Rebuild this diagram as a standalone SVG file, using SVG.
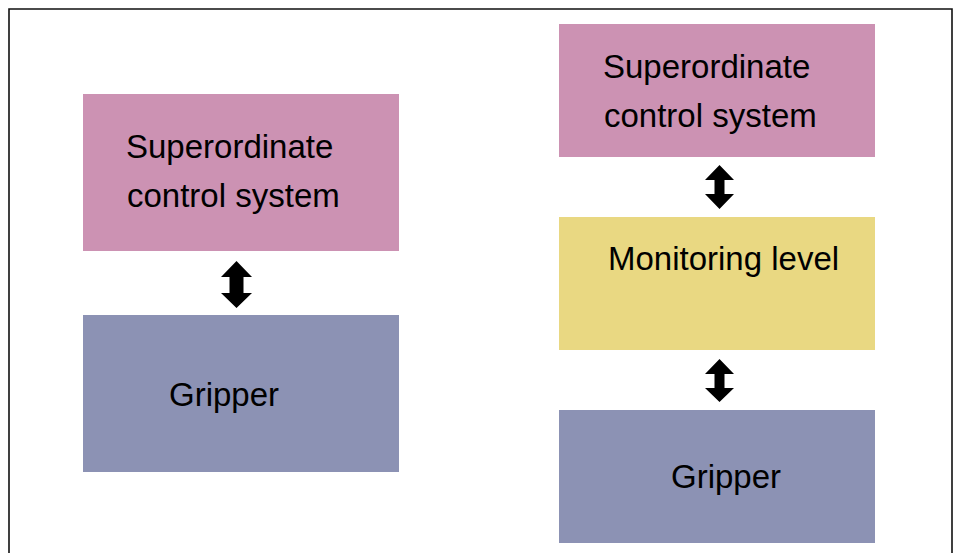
<svg xmlns="http://www.w3.org/2000/svg" width="954" height="553" viewBox="0 0 954 553">
  <style>
    .sup { fill: #CC92B3; }
    .grip { fill: #8C92B4; }
    .mon { fill: #E9D882; }
    .lbl { font-family: "Liberation Sans", Arial, sans-serif; font-size: 33px; fill: #000; }
    .arr { fill: #000; }
  </style>
  <rect width="954" height="553" fill="#fff"/>
  <path d="M9,553 V9 H952 V553" fill="none" stroke="#111" stroke-width="1.6"/>

  <g id="left-superordinate">
    <rect class="sup" x="83" y="94" width="316" height="157"/>
    <text class="lbl" x="126" y="158">Superordinate</text>
    <text class="lbl" x="127" y="207">control system</text>
  </g>
  <g id="left-gripper">
    <rect class="grip" x="83" y="315" width="316" height="157"/>
    <text class="lbl" x="169" y="406">Gripper</text>
  </g>

  <g id="right-superordinate">
    <rect class="sup" x="559" y="24" width="316" height="133"/>
    <text class="lbl" x="603" y="78">Superordinate</text>
    <text class="lbl" x="604" y="127">control system</text>
  </g>
  <g id="right-monitoring">
    <rect class="mon" x="559" y="217" width="316" height="133"/>
    <text class="lbl" x="608" y="270">Monitoring level</text>
  </g>
  <g id="right-gripper">
    <rect class="grip" x="559" y="410" width="316" height="133"/>
    <text class="lbl" x="671" y="488">Gripper</text>
  </g>

  <g id="connectors">
    <path class="arr" d="M236.5,261 L252,277 L243.5,277 L243.5,293 L252,293 L236.5,308 L221,293 L229.5,293 L229.5,277 L221,277 Z"/>
    <path class="arr" d="M719.5,165 L734,180 L724.5,180 L724.5,194 L734,194 L719.5,209 L705,194 L714.5,194 L714.5,180 L705,180 Z"/>
    <path class="arr" d="M719.5,359 L734,374 L724.5,374 L724.5,388 L734,388 L719.5,402 L705,388 L714.5,388 L714.5,374 L705,374 Z"/>
  </g>
</svg>
